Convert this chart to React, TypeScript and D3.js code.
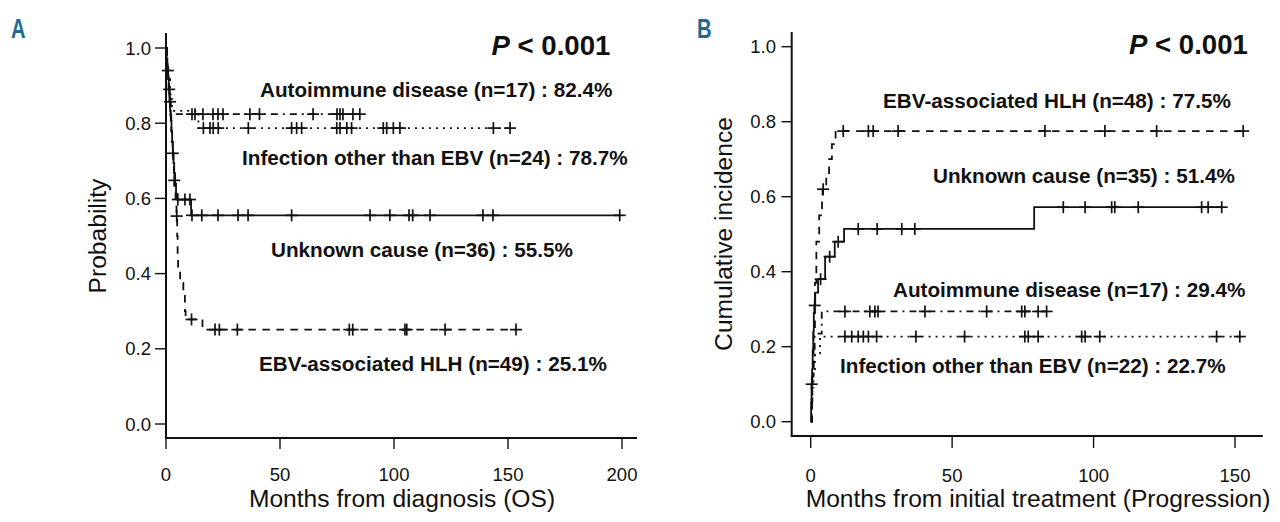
import React from 'react';
import * as d3 from 'd3';

// ---------- Panel A : overall survival (Kaplan-Meier) ----------
const aCategories = ['Autoimmune disease', 'Infection other than EBV', 'Unknown cause', 'EBV-associated HLH'];

const aAutoTimes = [0, 0.5, 1.2, 2.0];
const aAutoValues = [1, 0.941, 0.882, 0.824];
const aAutoCensor = [11.4, 12.7, 16.2, 20.6, 22.8, 25, 36.8, 41, 64.5, 75, 76.3, 77.6, 82, 85];

const aInfTimes = [0, 0.4, 1.0, 1.8, 2.6, 14.2];
const aInfValues = [1, 0.958, 0.917, 0.875, 0.833, 0.787];
const aInfCensor = [16.4, 19.3, 20.7, 22.9, 36.1, 55.1, 57.3, 59.5, 74.9, 76.3, 79.3, 81.4, 95.3, 96.8, 99.7, 102.6, 143.6, 150.9];

const aUnkTimes = [0, 0.3, 0.6, 0.9, 1.2, 1.5, 1.8, 2.1, 2.4, 2.7, 3.0, 3.3, 3.6, 4.0, 4.4, 4.8, 11.0];
const aUnkValues = [1, 0.972, 0.944, 0.917, 0.889, 0.861, 0.833, 0.806, 0.778, 0.75, 0.722, 0.694, 0.667, 0.639, 0.611, 0.597, 0.555];
const aUnkCensor = [5.2, 8.3, 10.5, 11.4, 15.7, 22.8, 31.6, 36, 55.1, 89.5, 98.2, 106.6, 108.2, 115.8, 139, 143.4, 199];

const aEbvTimes = [0, 0.2, 0.4, 0.6, 1.0, 1.3, 1.6, 2.0, 2.3, 2.6, 2.9, 3.2, 3.5, 3.8, 4.2, 4.6, 4.9, 5.1, 5.3, 6.2, 7.6, 8.3, 8.6, 16];
const aEbvValues = [1, 0.98, 0.96, 0.94, 0.918, 0.89, 0.857, 0.82, 0.78, 0.75, 0.72, 0.69, 0.648, 0.62, 0.59, 0.553, 0.5, 0.45, 0.405, 0.375, 0.343, 0.3, 0.278, 0.251];
const aEbvCensor = [0.8, 1.4, 1.8, 3.0, 3.6, 4.7, 11.2, 21.5, 23.4, 31.3, 80.4, 81.9, 104.8, 105.6, 122.4, 153.5];

const aLabels = [
  'Autoimmune disease (n=17) : 82.4%',
  'Infection other than EBV (n=24) : 78.7%',
  'Unknown cause (n=36) : 55.5%',
  'EBV-associated HLH (n=49) : 25.1%',
];

// ---------- Panel B : cumulative incidence of progression ----------
const bEbvTimes = [0, 0.5, 1, 1.5, 2, 3, 4, 4.2, 5.5, 6.5, 7.5, 8.8];
const bEbvValues = [0, 0.12, 0.25, 0.37, 0.48, 0.55, 0.6, 0.62, 0.66, 0.7, 0.74, 0.775];
const bEbvCensor = [4.4, 11.5, 20.4, 22.1, 30.9, 82.8, 104, 122.3, 152.9];

const bUnkTimes = [0, 0.15, 0.3, 0.5, 0.7, 0.9, 1.1, 1.3, 1.6, 2.6, 5.1, 8.5, 11.8, 79];
const bUnkValues = [0, 0.05, 0.1, 0.14, 0.19, 0.24, 0.29, 0.31, 0.344, 0.38, 0.44, 0.48, 0.514, 0.572];
const bUnkCensor = [0.35, 1.4, 3.5, 6.7, 9.7, 16.8, 23.5, 32.2, 36.8, 89.3, 97, 106.4, 107.5, 115.8, 138.2, 140.5, 145.3];

const bAutoTimes = [0, 0.3, 0.6, 1.0, 1.4, 3.9];
const bAutoValues = [0, 0.059, 0.118, 0.176, 0.235, 0.294];
const bAutoCensor = [12.1, 20.9, 22.7, 23.8, 40.4, 62.2, 74.6, 75.7, 80.4, 83.4];

const bInfTimes = [0, 0.3, 0.6, 1.0, 1.5, 3.3];
const bInfValues = [0, 0.045, 0.091, 0.136, 0.182, 0.227];
const bInfCensor = [12.1, 14.5, 16.8, 18.6, 20.4, 23.3, 37.2, 54.4, 75.7, 76.9, 80.4, 95.8, 97, 102.2, 143.5, 151.7];

const bLabels = [
  'EBV-associated HLH (n=48) : 77.5%',
  'Unknown cause (n=35) : 51.4%',
  'Autoimmune disease (n=17) : 29.4%',
  'Infection other than EBV (n=22) : 22.7%',
];

const xTicksA = [0, 50, 100, 150, 200];
const xTicksB = [0, 50, 100, 150];
const yTicks = [0, 0.2, 0.4, 0.6, 0.8, 1.0];

// ---------- styling ----------
const FONT = "'Liberation Sans', Arial, Helvetica, sans-serif";
const INK = '#111';
const DASHED = '7.5,6.5';
const DOTTED = '2,5';
const DOTDASH = '7,5,2,5';

type Curve = { times: number[]; values: number[]; censor: number[]; dash: string | undefined };

function valueAt(c: Curve, t: number) {
  const i = d3.bisectRight(c.times, t) - 1;
  return c.values[Math.max(0, i)];
}

function KMCurve({ c, x, y }: { c: Curve; x: d3.ScaleLinear<number, number>; y: d3.ScaleLinear<number, number> }) {
  const end = c.censor[c.censor.length - 1];
  const pts: [number, number][] = c.times.map((t, i) => [t, c.values[i]]);
  pts.push([end, c.values[c.values.length - 1]]);
  const line = d3
    .line<[number, number]>()
    .x((d) => x(d[0]))
    .y((d) => y(d[1]))
    .curve(d3.curveStepAfter);
  const h = 6;
  return (
    <g>
      <path d={line(pts) || ''} fill="none" stroke={INK} strokeWidth={1.8} strokeDasharray={c.dash} />
      {c.censor.map((t, i) => {
        const cx = x(t);
        const cy = y(valueAt(c, t));
        return (
          <g key={i} stroke={INK} strokeWidth={1.7}>
            <line x1={cx - h} x2={cx + h} y1={cy} y2={cy} />
            <line x1={cx} x2={cx} y1={cy - h} y2={cy + h} />
          </g>
        );
      })}
    </g>
  );
}

export default function App() {
  const xA = d3.scaleLinear().domain([0, 200]).range([166, 622]);
  const yA = d3.scaleLinear().domain([0, 1]).range([424, 48]);
  const xB = d3.scaleLinear().domain([0, 150]).range([810.7, 1235]);
  const yB = d3.scaleLinear().domain([0, 1]).range([421.7, 46.7]);

  const curvesA: Curve[] = [
    { times: aAutoTimes, values: aAutoValues, censor: aAutoCensor, dash: DOTDASH },
    { times: aInfTimes, values: aInfValues, censor: aInfCensor, dash: DOTTED },
    { times: aUnkTimes, values: aUnkValues, censor: aUnkCensor, dash: undefined },
    { times: aEbvTimes, values: aEbvValues, censor: aEbvCensor, dash: DASHED },
  ];
  const curvesB: Curve[] = [
    { times: bEbvTimes, values: bEbvValues, censor: bEbvCensor, dash: DASHED },
    { times: bUnkTimes, values: bUnkValues, censor: bUnkCensor, dash: undefined },
    { times: bAutoTimes, values: bAutoValues, censor: bAutoCensor, dash: DOTDASH },
    { times: bInfTimes, values: bInfValues, censor: bInfCensor, dash: DOTTED },
  ];

  const labelPosA: [number, number][] = [
    [260, 97],
    [242, 165],
    [271, 257],
    [259, 371],
  ];
  const labelPosB: [number, number][] = [
    [883, 108],
    [933, 183],
    [893, 297],
    [840, 373],
  ];

  const labelStyle = { fontFamily: FONT, fontWeight: 700, fontSize: 20.7, fill: INK } as const;

  return (
    <svg
      width={1280}
      height={522}
      viewBox="0 0 1280 522"
      style={{ position: 'absolute', left: 0, top: 0, background: '#fff' }}
    >
      <rect width={1280} height={522} fill="#fff" />

      {/* Panel letters */}
      <text x={11} y={38.5} fill="#1d6996" fontFamily={FONT} fontWeight={700} fontSize={28}
        transform="translate(11,0) scale(0.72,1) translate(-11,0)">A</text>
      <text x={697} y={38.5} fill="#1d6996" fontFamily={FONT} fontWeight={700} fontSize={28}
        transform="translate(697,0) scale(0.72,1) translate(-697,0)">B</text>

      {/* ---------------- Panel A ---------------- */}
      <g>
        <line x1={166} x2={166} y1={33} y2={438} stroke={INK} strokeWidth={2} />
        <line x1={165} x2={637} y1={438} y2={438} stroke={INK} strokeWidth={2} />
        {yTicks.map((t) => (
          <g key={t}>
            <line x1={155} x2={166} y1={yA(t)} y2={yA(t)} stroke={INK} strokeWidth={1.4} />
            <text x={151} y={yA(t)} dy="0.36em" textAnchor="end" fontFamily={FONT} fontSize={18.5} fill={INK}>
              {t.toFixed(1)}
            </text>
          </g>
        ))}
        {xTicksA.map((t) => (
          <g key={t}>
            <line x1={xA(t)} x2={xA(t)} y1={438} y2={449} stroke={INK} strokeWidth={1.4} />
            <text x={xA(t)} y={480.5} textAnchor="middle" fontFamily={FONT} fontSize={18.5} fill={INK}>
              {t}
            </text>
          </g>
        ))}
        <text x={402} y={507} textAnchor="middle" fontFamily={FONT} fontSize={24.6} fill={INK}>
          Months from diagnosis (OS)
        </text>
        <text transform="translate(106,236) rotate(-90)" textAnchor="middle" fontFamily={FONT} fontSize={24.6} fill={INK}>
          Probability
        </text>
        {curvesA.map((c, i) => (
          <KMCurve key={aCategories[i]} c={c} x={xA} y={yA} />
        ))}
        {aLabels.map((l, i) => (
          <text key={l} x={labelPosA[i][0]} y={labelPosA[i][1]} {...labelStyle}>
            {l}
          </text>
        ))}
        <text x={491.5} y={55} fontFamily={FONT} fontWeight={700} fontSize={27.6} fill={INK}>
          <tspan fontStyle="italic">P</tspan> &lt; 0.001
        </text>
      </g>

      {/* ---------------- Panel B ---------------- */}
      <g>
        <line x1={791.7} x2={791.7} y1={32} y2={436} stroke={INK} strokeWidth={2} />
        <line x1={790.7} x2={1262.7} y1={436} y2={436} stroke={INK} strokeWidth={2} />
        {yTicks.map((t) => (
          <g key={t}>
            <line x1={781.5} x2={791.7} y1={yB(t)} y2={yB(t)} stroke={INK} strokeWidth={1.4} />
            <text x={776} y={yB(t)} dy="0.36em" textAnchor="end" fontFamily={FONT} fontSize={18.5} fill={INK}>
              {t.toFixed(1)}
            </text>
          </g>
        ))}
        {xTicksB.map((t) => (
          <g key={t}>
            <line x1={xB(t)} x2={xB(t)} y1={436} y2={448} stroke={INK} strokeWidth={1.4} />
            <text x={xB(t)} y={481.5} textAnchor="middle" fontFamily={FONT} fontSize={18.5} fill={INK}>
              {t}
            </text>
          </g>
        ))}
        <text x={1038} y={506.5} textAnchor="middle" fontFamily={FONT} fontSize={24.6} fill={INK}>
          Months from initial treatment (Progression)
        </text>
        <text transform="translate(732,234) rotate(-90)" textAnchor="middle" fontFamily={FONT} fontSize={24.6} fill={INK}>
          Cumulative incidence
        </text>
        {curvesB.map((c, i) => (
          <KMCurve key={bLabels[i]} c={c} x={xB} y={yB} />
        ))}
        {bLabels.map((l, i) => (
          <text key={l} x={labelPosB[i][0]} y={labelPosB[i][1]} {...labelStyle}>
            {l}
          </text>
        ))}
        <text x={1129} y={54} fontFamily={FONT} fontWeight={700} fontSize={27.6} fill={INK}>
          <tspan fontStyle="italic">P</tspan> &lt; 0.001
        </text>
      </g>
    </svg>
  );
}
